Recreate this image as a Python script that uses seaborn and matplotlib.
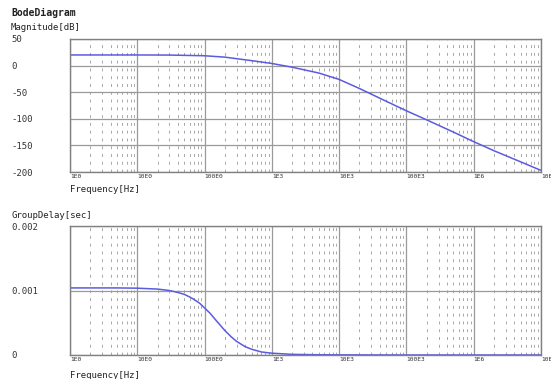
import numpy as np
import pandas as pd
import matplotlib
matplotlib.use("Agg")
import matplotlib.pyplot as plt
import seaborn as sns
from matplotlib.ticker import FixedLocator, NullFormatter

# ---- data ----
mag_freq = [1, 10, 30, 100, 200, 500, 1000, 2000, 5000, 1e4, 2e4, 5e4,
            1e5, 2e5, 5e5, 1e6, 2e6, 5e6, 1e7]
mag_db = [20, 20, 19.8, 18.5, 15.9, 9.3, 4, -3, -14, -26, -43, -67,
          -85, -102, -125, -143, -160, -181, -197]

gd_freq = [1, 2, 5, 10, 20, 30, 40, 50, 60, 70, 85, 100, 120, 150, 175, 200,
           250, 300, 400, 500, 700, 1000, 2000, 5000, 1e4, 1e5, 1e6, 1e7]
gd_sec = [0.00104, 0.00104, 0.00104, 0.001036, 0.001022, 0.001, 0.00097,
          0.00094, 0.0009, 0.00086, 0.0008, 0.00073, 0.00065, 0.00053,
          0.00045, 0.00038, 0.00028, 0.00021, 0.00013, 0.000089, 0.000047,
          0.000028, 0.000010, 0.000004, 0.000002, 0.0, 0.0, 0.0]

x_ticks = [1, 10, 100, 1e3, 1e4, 1e5, 1e6, 1e7]
x_tick_labels = ["1E0", "10E0", "100E0", "1E3", "10E3", "100E3", "1E6", "10E6"]
mag_ticks = [50, 0, -50, -100, -150, -200]
gd_ticks = [0.002, 0.001, 0]
gd_tick_labels = ["0.002", "0.001", "0"]

# ---- style ----
sns.set_style("white")
plt.rcParams["font.family"] = ["DejaVu Sans Mono", "DejaVu Sans"]

W, H = 551, 379
fig = plt.figure(figsize=(W / 100, H / 100), dpi=100)

def box(l, t, r, b):
    return [l / W, 1 - b / H, (r - l) / W, (b - t) / H]

ax1 = fig.add_axes(box(70, 39, 541, 172))
ax2 = fig.add_axes(box(70, 226, 541, 355))

line_color = "#5b5be0"
grid_col = "#9a9a9a"

df_mag = pd.DataFrame({"f": mag_freq, "mag": mag_db})
df_gd = pd.DataFrame({"f": gd_freq, "gd": gd_sec})

sns.lineplot(data=df_mag, x="f", y="mag", ax=ax1, color=line_color, lw=1.1)
sns.lineplot(data=df_gd, x="f", y="gd", ax=ax2, color=line_color, lw=1.1)

minor = [m * 10.0 ** d for d in range(0, 7) for m in range(2, 10)]

def style(ax, yticks, ylabels, ylim):
    ax.set_xscale("log")
    ax.set_xlim(1, 1e7)
    ax.set_ylim(*ylim)
    ax.set_xlabel("")
    ax.set_ylabel("")
    ax.xaxis.set_major_locator(FixedLocator(x_ticks))
    ax.xaxis.set_minor_locator(FixedLocator(minor))
    ax.xaxis.set_minor_formatter(NullFormatter())
    ax.set_xticklabels(x_tick_labels, fontsize=4.5, ha="left", color="#333333")
    ax.set_yticks(yticks)
    ax.set_yticklabels(ylabels, fontsize=6.5, ha="left", color="#333333")
    ax.tick_params(axis="both", which="both", length=0)
    ax.tick_params(axis="y", pad=42)
    ax.tick_params(axis="x", pad=1.5)
    ax.grid(True, which="major", axis="both", color=grid_col, lw=0.9, ls="-")
    ax.grid(True, which="minor", axis="x", color="#a8a8a8", lw=0.7, ls=(0, (3, 5)))
    ax.set_axisbelow(True)
    for s in ax.spines.values():
        s.set_color("#808080")
        s.set_linewidth(1.0)

style(ax1, mag_ticks, [str(v) for v in mag_ticks], (-200, 50))
style(ax2, gd_ticks, gd_tick_labels, (0, 0.002))

def ftext(x, y, s, **kw):
    fig.text(x / W, 1 - y / H, s, va="center", ha="left", color="#222222", **kw)

ftext(11, 13, "BodeDiagram", fontsize=7, fontweight="bold")
ftext(11, 28, "Magnitude[dB]", fontsize=6.5)
ftext(70, 189, "Frequency[Hz]", fontsize=6.5)
ftext(11, 215, "GroupDelay[sec]", fontsize=6.5)
ftext(70, 375, "Frequency[Hz]", fontsize=6.5)

fig.savefig("out.png", dpi=100)
